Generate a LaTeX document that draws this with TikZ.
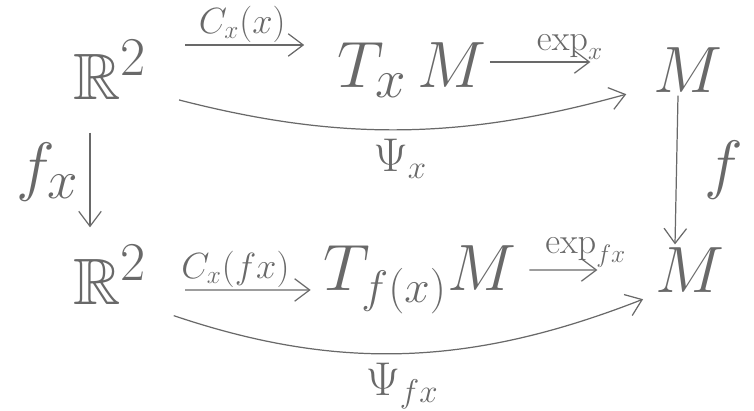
\documentclass[tikz,border=0pt]{standalone}
\usepackage{amsmath,amssymb}
\usepackage{tikz}
\usetikzlibrary{arrows.meta,positioning,calc}
\definecolor{pencil}{RGB}{105,105,105}

\begin{document}
\begin{tikzpicture}[x=0.02cm, y=0.02cm,
    obj/.style={text=pencil, font=\Huge, scale=1.5, inner sep=1pt},
    lbl/.style={text=pencil, font=\LARGE, scale=1.2, inner sep=1pt},
    arr/.style={draw=pencil, line width=0.7pt, -{Straight Barb[length=3mm,width=4.5mm]}}]
  \useasboundingbox (0,0) rectangle (754,411);

  % top row
  \node[obj] (r1) at (110,341) {$\mathbb{R}^2$};
  \node[obj] (t1) at (412,341) {$T_x\,M$};
  \node[obj] (m1) at (688,341) {$M$};

  % bottom row
  \node[obj] (r2) at (110,136) {$\mathbb{R}^2$};
  \node[obj] (t2) at (420,131) {$T_{\scriptscriptstyle f(x)}M$};
  \node[obj] (m2) at (690,141) {$M$};

  % horizontal maps
  \draw[arr, shorten <=0.7cm, shorten >=0.6cm] ([yshift=0.5cm]r1.east) -- node[lbl, above] {$C_x(x)$} ([yshift=0.5cm]t1.west);
  \draw[arr, shorten >=1.2cm] ([yshift=0.16cm]t1.east) -- node[lbl, above] {$\exp_x$} ([yshift=0.16cm]m1.west);
  \draw[arr, shorten <=0.7cm, shorten >=0.2cm] ([yshift=-0.3cm]r2.east) -- node[lbl, above] {$C_x(fx)$} ([yshift=-0.2cm]t2.west);
  \draw[arr, shorten <=0.2cm, shorten >=1.1cm] ([yshift=0.2cm]t2.east) -- node[lbl, above] {$\exp_{fx}$} ([yshift=0cm]m2.west);

  % composites
  \draw[arr, shorten <=0.6cm, shorten >=0.5cm] ([yshift=-0.45cm]r1.east) to[bend right=15] node[lbl, scale=1.3, below=4pt] {$\Psi_x$} ([yshift=-0.35cm]m1.west);
  \draw[arr, shorten <=0.5cm, shorten >=0.2cm] (r2.south east) to[bend right=20] node[lbl, scale=1.3, below=4pt] {$\Psi_{fx}$} (m2.south west);

  % vertical maps
  \draw[arr, shorten <=0.6cm, shorten >=0.3cm] ([xshift=-0.4cm]r1.south) -- node[obj, left=4pt] {$f_x$} ([xshift=-0.4cm]r2.north);
  \draw[arr] ([xshift=-0.2cm]m1.south) -- node[obj, right=14pt] {$f$} ([xshift=-0.3cm]m2.north);
\end{tikzpicture}
\end{document}
